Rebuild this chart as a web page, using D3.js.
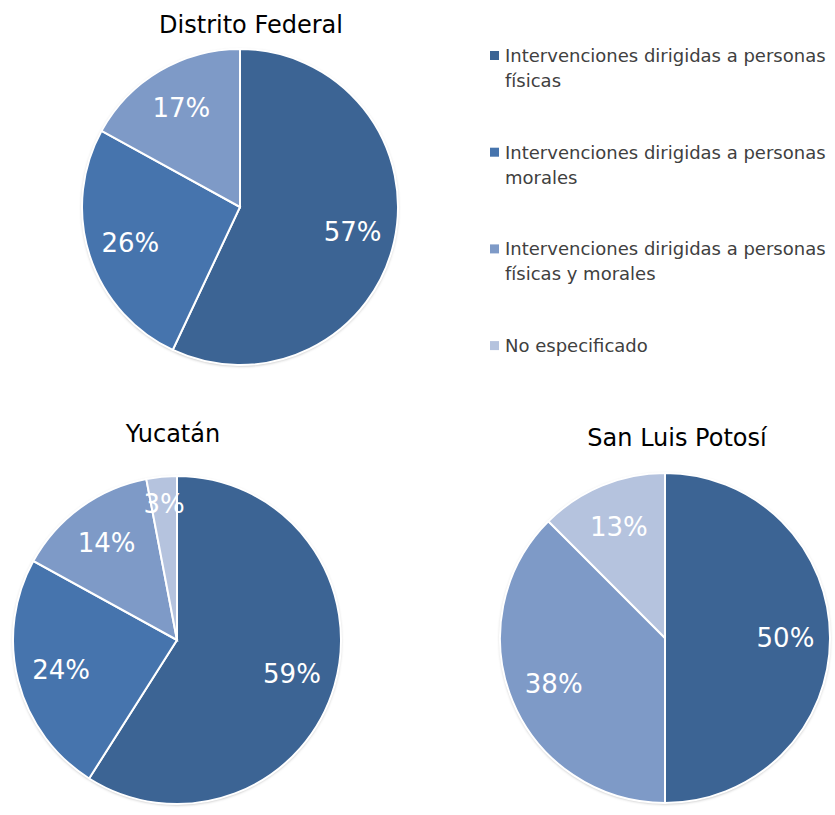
<!DOCTYPE html>
<html>
<head>
<meta charset="utf-8">
<script src="https://cdn.jsdelivr.net/npm/d3@7"></script>
<style>
  body { margin: 0; background: #fff; }
  svg text { font-family: "DejaVu Sans", Verdana, sans-serif; }
</style>
</head>
<body>
<svg id="canvas" width="835" height="815"></svg>
<script>
// categories (legend order)
let categories = [
    ["Intervenciones dirigidas a personas", "físicas"],
    ["Intervenciones dirigidas a personas", "morales"],
    ["Intervenciones dirigidas a personas", "físicas y morales"],
    ["No especificado"]
]
let colors = ["#3c6494", "#4674ad", "#7e9ac7", "#b5c3de"]

// percentages per state, in category order
let distritoFederal = [57, 26, 17, 0]
let yucatan = [59, 24, 14, 3]
let sanLuisPotosi = [50, 0, 37.5, 12.5]

let charts = [
    {title: "Distrito Federal", values: distritoFederal, cx: 240, cy: 207, r: 158, tx: 251, ty: 33},
    {title: "Yucatán", values: yucatan, cx: 177, cy: 640, r: 164, tx: 173, ty: 442},
    {title: "San Luis Potosí", values: sanLuisPotosi, cx: 665, cy: 638, r: 165, tx: 677, ty: 446}
]

let canvas = d3.select('#canvas')

let defs = canvas.append('defs')
let shadow = defs.append('filter').attr('id', 'shadow')
    .attr('x', '-10%').attr('y', '-10%').attr('width', '120%').attr('height', '120%')
shadow.append('feDropShadow')
    .attr('dx', 0).attr('dy', 1).attr('stdDeviation', 1.5)
    .attr('flood-color', '#000').attr('flood-opacity', 0.3)

let pie = d3.pie().sort(null).value(d => d.v)

function drawPie(c) {
    let data = c.values.map((v, i) => ({v: v, i: i})).filter(d => d.v > 0)
    let arc = d3.arc().innerRadius(0).outerRadius(c.r)
    let labelArc = d3.arc().innerRadius(c.r * 0.73).outerRadius(c.r * 0.73)

    let g = canvas.append('g').attr('transform', 'translate(' + c.cx + ',' + c.cy + ')')

    g.append('circle').attr('r', c.r).attr('fill', '#fff').attr('filter', 'url(#shadow)')

    let slices = g.selectAll('.slice')
        .data(pie(data))
        .enter()
        .append('g')
        .attr('class', 'slice')

    slices.append('path')
        .attr('d', arc)
        .attr('fill', d => colors[d.data.i])
        .attr('stroke', '#fff')
        .attr('stroke-width', 2)

    // small slices get their label pushed further out, like Excel does
    slices.append('text')
        .attr('transform', d => {
            let p = labelArc.centroid(d)
            let k = d.data.v < 5 ? 1.14 : 1
            return 'translate(' + p[0] * k + ',' + p[1] * k + ')'
        })
        .attr('text-anchor', 'middle')
        .attr('dy', '0.35em')
        .attr('fill', '#fff')
        .style('font-size', '26px')
        .text(d => Math.round(d.data.v) + '%')

    canvas.append('text')
        .attr('x', c.tx)
        .attr('y', c.ty)
        .attr('text-anchor', 'middle')
        .attr('fill', '#000')
        .style('font-size', '24px')
        .text(c.title)
}

charts.forEach(drawPie)

// legend
let legend = canvas.append('g').attr('transform', 'translate(490,62)')
let items = legend.selectAll('.item')
    .data(categories)
    .enter()
    .append('g')
    .attr('class', 'item')
    .attr('transform', (d, i) => 'translate(0,' + (i * 96.7) + ')')

items.append('rect')
    .attr('x', 0).attr('y', -11)
    .attr('width', 9).attr('height', 9)
    .attr('fill', (d, i) => colors[i])

items.append('text')
    .attr('x', 15)
    .attr('fill', '#404040')
    .style('font-size', '18px')
    .selectAll('tspan')
    .data(d => d)
    .enter()
    .append('tspan')
    .attr('x', 15)
    .attr('dy', (d, i) => i === 0 ? 0 : 25)
    .text(d => d)
</script>
</body>
</html>
